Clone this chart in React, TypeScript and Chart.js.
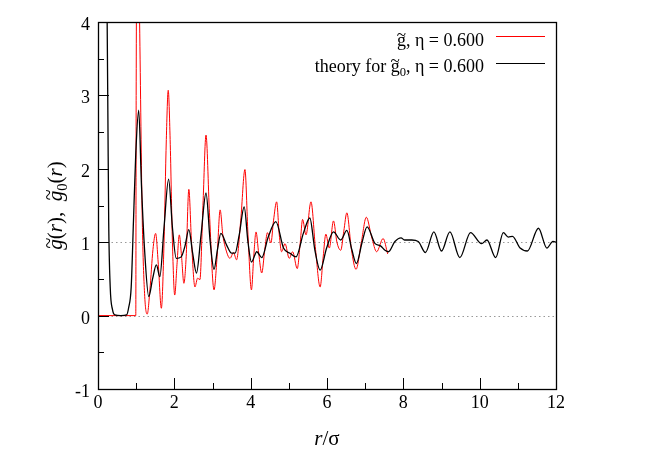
import React, { useEffect, useRef } from "react";
import { Chart, registerables } from "chart.js";
Chart.register(...registerables);

// ---------- data ----------
const redX = [0, 0.99, 1.0, 1.03, 1.09, 1.16, 1.22, 1.29, 1.36, 1.44, 1.51, 1.58, 1.66, 1.73, 1.79, 1.84, 1.89, 1.95, 2.01, 2.07, 2.13, 2.19, 2.25, 2.31, 2.38, 2.45, 2.54, 2.61, 2.67, 2.75, 2.83, 2.92, 3.04, 3.12, 3.2, 3.27, 3.33, 3.46, 3.55, 3.63, 3.74, 3.85, 3.93, 4.02, 4.08, 4.14, 4.21, 4.29, 4.37, 4.44, 4.53, 4.6, 4.68, 4.75, 4.81, 4.9, 5.01, 5.1, 5.22, 5.3, 5.36, 5.45, 5.58, 5.7, 5.82, 5.9, 5.97, 6.06, 6.17, 6.26, 6.36, 6.44, 6.52, 6.64, 6.76, 6.9, 7.03, 7.17, 7.3, 7.47, 7.59];
const redY = [0, 0, 3.0, 6.0, 4.0, 1.3, 0.3, 0.02, 0.35, 0.9, 1.12, 0.7, 0.1, 1.0, 2.4, 3.07, 2.4, 1.0, 0.28, 0.7, 1.1, 0.8, 0.44, 0.8, 1.72, 1.0, 0.39, 0.51, 0.49, 1.5, 2.46, 1.4, 0.35, 0.8, 1.44, 1.1, 0.94, 0.78, 0.86, 0.76, 1.3, 1.99, 1.1, 0.35, 0.8, 1.14, 0.85, 0.58, 0.9, 1.13, 0.99, 1.3, 1.55, 1.1, 0.87, 0.98, 0.78, 0.87, 0.64, 1.0, 1.31, 1.1, 1.55, 0.9, 0.39, 0.8, 1.11, 0.92, 1.29, 1.0, 0.89, 1.15, 1.4, 0.9, 0.63, 1.0, 1.34, 1.07, 0.87, 1.05, 0.84];

const blackX = [0.2, 0.24, 0.26, 0.28, 0.32, 0.38, 0.44, 0.6, 0.75, 0.8, 0.87, 0.93, 0.99, 1.066, 1.14, 1.22, 1.33, 1.43, 1.53, 1.62, 1.73, 1.85, 1.95, 2.05, 2.18, 2.28, 2.38, 2.48, 2.58, 2.7, 2.83, 2.94, 3.04, 3.13, 3.22, 3.37, 3.5, 3.59, 3.7, 3.83, 3.93, 4.02, 4.16, 4.29, 4.46, 4.66, 4.86, 5.03, 5.19, 5.38, 5.55, 5.68, 5.82, 5.99, 6.17, 6.36, 6.52, 6.65, 6.77, 6.92, 7.05, 7.26, 7.4, 7.52, 7.61, 7.78, 7.94, 8.03, 8.22, 8.39, 8.58, 8.8, 9.0, 9.22, 9.48, 9.76, 10.05, 10.19, 10.42, 10.62, 10.75, 10.86, 11.06, 11.25, 11.54, 11.76, 11.92, 12.0];
const blackY = [6.0, 4.0, 2.66, 1.3, 0.39, 0.08, 0.01, 0.0, 0.01, 0.1, 0.39, 1.3, 2.21, 2.8, 1.76, 0.9, 0.26, 0.5, 0.69, 0.53, 1.2, 1.86, 1.2, 0.78, 0.8, 0.95, 1.17, 0.85, 0.58, 1.1, 1.67, 1.0, 0.63, 0.9, 1.12, 0.96, 0.85, 0.85, 1.1, 1.48, 1.0, 0.73, 0.87, 0.79, 1.07, 1.28, 0.92, 0.85, 0.8, 1.12, 1.33, 0.9, 0.62, 0.92, 1.14, 1.03, 1.16, 0.9, 0.71, 1.0, 1.21, 0.98, 0.95, 0.89, 0.87, 1.01, 1.06, 1.03, 1.03, 1.01, 0.86, 1.14, 0.88, 1.14, 0.79, 1.13, 0.98, 1.03, 0.79, 1.13, 1.07, 1.08, 0.92, 0.88, 1.19, 0.92, 1.01, 1.0];

const xMajorTicks = [0, 2, 4, 6, 8, 10, 12];
const xMinorTicks = [1, 3, 5, 7, 9, 11];
const yMajorTicks = [-1, 0, 1, 2, 3, 4];
const yMinorTicks = [-0.5, 0.5, 1.5, 2.5, 3.5];
const refLines = [0, 1];

type Seg = { t: string; it?: boolean; sub?: boolean; tilde?: boolean };
const legendRed: Seg[] = [{ t: "g", tilde: true }, { t: ", \u03B7 = 0.600" }];
const legendBlack: Seg[] = [{ t: "theory for " }, { t: "g", tilde: true }, { t: "0", sub: true }, { t: ", \u03B7 = 0.600" }];
const yTitle: Seg[] = [
  { t: "g", it: true, tilde: true }, { t: "(" }, { t: "r", it: true }, { t: "),  " },
  { t: "g", it: true, tilde: true }, { t: "0", sub: true }, { t: "(" }, { t: "r", it: true }, { t: ")" },
];
const xTitle: Seg[] = [{ t: "r", it: true }, { t: "/\u03C3" }];

const SERIF = '"Liberation Serif", "DejaVu Serif", serif';

function drawSegs(ctx: CanvasRenderingContext2D, segs: Seg[], x: number, y: number, size: number, draw: boolean): number {
  let cx = x;
  ctx.textAlign = "left";
  ctx.textBaseline = "alphabetic";
  for (const s of segs) {
    const fs = s.sub ? size * 0.7 : size;
    ctx.font = `${s.it ? "italic " : ""}${fs}px ${SERIF}`;
    const w = ctx.measureText(s.t).width;
    if (draw) {
      ctx.fillText(s.t, cx, y + (s.sub ? size * 0.22 : 0));
      if (s.tilde) {
        ctx.font = `${fs * 0.95}px ${SERIF}`;
        ctx.textAlign = "center";
        ctx.fillText("~", cx + w / 2 + (s.it ? fs * 0.06 : 0), y - fs * 0.34);
        ctx.textAlign = "left";
      }
    }
    cx += w;
  }
  return cx - x;
}

const decor = {
  id: "decor",
  beforeDatasetsDraw(chart: any) {
    const { ctx, chartArea: a, scales } = chart;
    ctx.save();
    ctx.strokeStyle = "#999";
    ctx.lineWidth = 1;
    ctx.setLineDash([1.5, 3]);
    for (const v of refLines) {
      const py = Math.round(scales.y.getPixelForValue(v)) + 0.5;
      ctx.beginPath();
      ctx.moveTo(a.left, py);
      ctx.lineTo(a.right, py);
      ctx.stroke();
    }
    ctx.restore();
  },
  afterDraw(chart: any) {
    const { ctx, chartArea: a, scales } = chart;
    const xs = scales.x, ys = scales.y;
    ctx.save();
    ctx.strokeStyle = "#000";
    ctx.fillStyle = "#000";
    ctx.lineWidth = 1.3;
    // frame
    ctx.strokeRect(Math.round(a.left) + 0.5, Math.round(a.top) + 0.5, Math.round(a.right - a.left), Math.round(a.bottom - a.top));
    // ticks
    ctx.lineWidth = 1;
    ctx.beginPath();
    for (const v of xMajorTicks) {
      const px = Math.round(xs.getPixelForValue(v)) + 0.5;
      ctx.moveTo(px, a.bottom); ctx.lineTo(px, a.bottom - 11);
    }
    for (const v of xMinorTicks) {
      const px = Math.round(xs.getPixelForValue(v)) + 0.5;
      ctx.moveTo(px, a.bottom); ctx.lineTo(px, a.bottom - 6);
    }
    for (const v of yMajorTicks) {
      const py = Math.round(ys.getPixelForValue(v)) + 0.5;
      ctx.moveTo(a.left, py); ctx.lineTo(a.left + 11, py);
    }
    for (const v of yMinorTicks) {
      const py = Math.round(ys.getPixelForValue(v)) + 0.5;
      ctx.moveTo(a.left, py); ctx.lineTo(a.left + 6, py);
    }
    ctx.stroke();
    // tick labels
    ctx.font = `18px ${SERIF}`;
    ctx.textBaseline = "alphabetic";
    ctx.textAlign = "center";
    for (const v of xMajorTicks) {
      ctx.fillText(String(v), xs.getPixelForValue(v), a.bottom + 19);
    }
    ctx.textAlign = "right";
    for (const v of yMajorTicks) {
      ctx.fillText(String(v), a.left - 8, ys.getPixelForValue(v) + 8);
    }
    // x title
    const xw = drawSegs(ctx, xTitle, 0, 0, 21, false);
    drawSegs(ctx, xTitle, (a.left + a.right) / 2 - xw / 2, 445, 21, true);
    // y title
    ctx.save();
    ctx.translate(62, (a.top + a.bottom) / 2);
    ctx.rotate(-Math.PI / 2);
    const yw = drawSegs(ctx, yTitle, 0, 0, 21, false);
    drawSegs(ctx, yTitle, -yw / 2, 0, 21, true);
    ctx.restore();
    // legend
    const entries: [Seg[], string, number, number][] = [
      [legendRed, "#ff0000", 46, 36.5],
      [legendBlack, "#000000", 72, 63.5],
    ];
    for (const [segs, col, base, ly] of entries) {
      ctx.fillStyle = "#000";
      const w = drawSegs(ctx, segs, 0, 0, 18, false);
      drawSegs(ctx, segs, 484 - w, base, 18, true);
      ctx.strokeStyle = col;
      ctx.lineWidth = 1;
      ctx.beginPath();
      ctx.moveTo(496, ly);
      ctx.lineTo(545, ly);
      ctx.stroke();
    }
    ctx.restore();
  },
};

export default function App() {
  const ref = useRef<HTMLCanvasElement | null>(null);
  useEffect(() => {
    if (!ref.current) return;
    const chart = new Chart(ref.current, {
      type: "line",
      data: {
        datasets: [
          {
            label: "theory for g0, eta = 0.600",
            data: blackX.map((x, i) => ({ x, y: blackY[i] })),
            borderColor: "#000000",
            borderWidth: 1.3,
            pointRadius: 0,
            cubicInterpolationMode: "monotone",
            fill: false,
            order: 0,
          },
          {
            label: "g, eta = 0.600",
            data: redX.map((x, i) => ({ x, y: redY[i] })),
            borderColor: "#ff0000",
            borderWidth: 1,
            pointRadius: 0,
            cubicInterpolationMode: "monotone",
            fill: false,
            order: 1,
          },
        ],
      },
      options: {
        responsive: false,
        animation: false,
        events: [],
        layout: { padding: { left: 98, right: 98, top: 22, bottom: 69 } },
        scales: {
          x: { type: "linear", min: 0, max: 12, display: false },
          y: { type: "linear", min: -1, max: 4, display: false },
        },
        plugins: { legend: { display: false }, tooltip: { enabled: false } },
      },
      plugins: [decor],
    } as any);
    return () => chart.destroy();
  }, []);
  return (
    <div style={{ position: "fixed", left: 0, top: 0, width: 654, height: 458, background: "#fff" }}>
      <canvas ref={ref} width={654} height={458} style={{ display: "block", width: 654, height: 458 }} />
    </div>
  );
}
